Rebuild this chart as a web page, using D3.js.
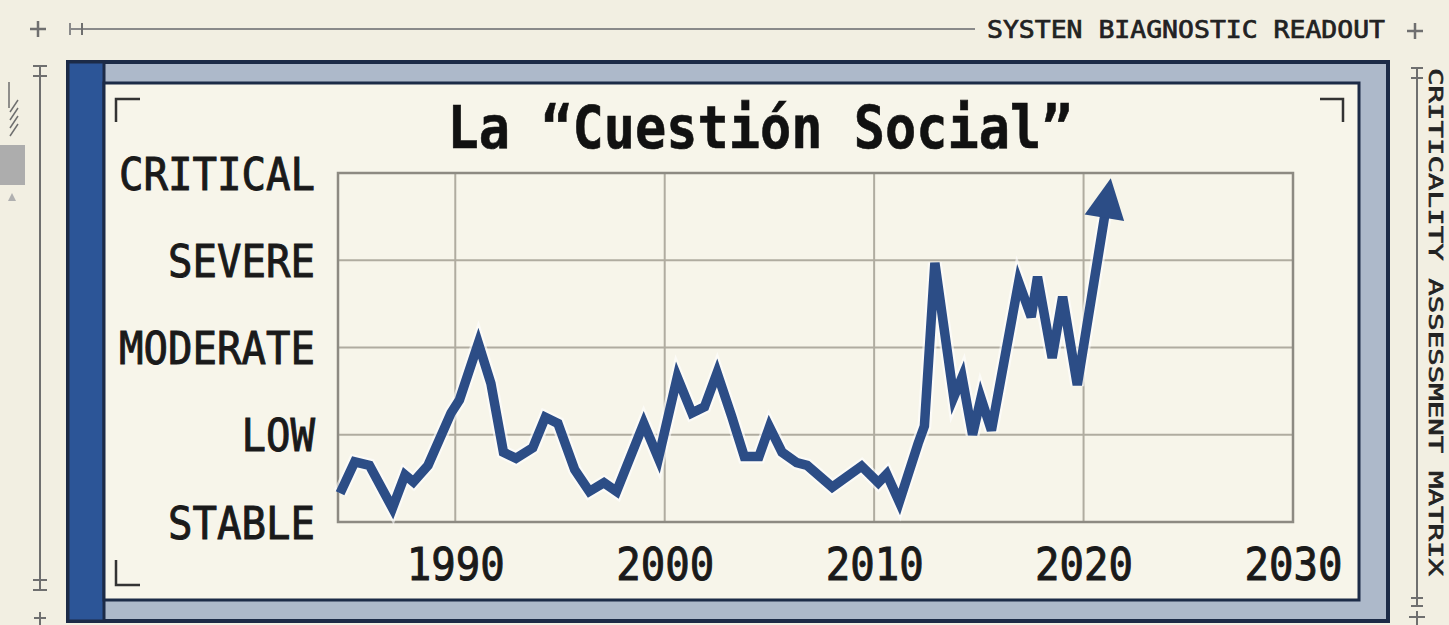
<!DOCTYPE html>
<html>
<head>
  <title>La Cuestión Social</title>
  <script src="https://d3js.org/d3.v7.min.js"></script>
  <style>
    body {
      margin: 0;
      padding: 0;
      background: #f2efe2;
    }
    svg { display: block; }
    text { font-family: 'DejaVu Sans Mono', monospace; }
  </style>
</head>
<body>
  <svg id="canvas" width="1449" height="625"></svg>

  <script>
    // data
    const levels = ["STABLE", "LOW", "MODERATE", "SEVERE", "CRITICAL"];
    const xTicks = [1990, 2000, 2010, 2020, 2030];
    const years = [
      1984.5, 1985.2, 1985.9, 1987.0, 1987.6, 1988.0, 1988.7, 1989.8, 1990.2, 1991.1,
      1991.7, 1992.3, 1992.9, 1993.7, 1994.3, 1994.9, 1995.7, 1996.4, 1997.1, 1997.7,
      1999.0, 1999.7, 2000.6, 2001.3, 2001.9, 2002.5, 2003.2, 2003.8, 2004.5, 2005.0,
      2005.6, 2006.3, 2006.8, 2008.0, 2009.4, 2010.2, 2010.6, 2011.2, 2012.1, 2012.4,
      2012.9, 2013.8, 2014.2, 2014.7, 2015.1, 2015.6, 2016.9, 2017.5, 2017.8, 2018.5,
      2019.0, 2019.7, 2021.3
    ];
    const severity = [
      0.33, 0.69, 0.65, 0.16, 0.54, 0.46, 0.65, 1.25, 1.40, 2.05,
      1.59, 0.80, 0.73, 0.85, 1.20, 1.13, 0.60, 0.35, 0.45, 0.35,
      1.13, 0.73, 1.66, 1.25, 1.32, 1.71, 1.21, 0.75, 0.75, 1.09,
      0.80, 0.68, 0.65, 0.40, 0.64, 0.45, 0.55, 0.23, 0.90, 1.10,
      2.97, 1.43, 1.66, 1.00, 1.42, 1.05, 2.75, 2.35, 2.81, 1.88,
      2.58, 1.57, 3.94
    ];
    const title = "La \u201cCuesti\u00f3n Social\u201d";
    const headerText = "SYSTEN BIAGNOSTIC READOUT";
    const sideText = "CRITICALITY ASSESSMENT MATRIX";

    const svg = d3.select("#canvas");
    const dark = "#1c2b47";
    const lineBlue = "#2c4d86";
    const deco = "#6f6f6f";

    // ---- outer decoration ----
    const d = svg.append("g").attr("stroke", deco).attr("fill", "none").attr("stroke-width", 2);
    d.append("path").attr("d", "M30,29H46M38,21V37").attr("stroke-width", 2.5);
    d.append("path").attr("d", "M70,23V35M70,29H975").attr("stroke", "#8a8a8a");
    d.append("path").attr("d", "M82,23V35");
    d.append("path").attr("d", "M1407,31H1423M1415,23V39").attr("stroke-width", 2.5);
    // left ruler
    d.append("path").attr("d", "M40,66V590M33,66H47M33,76H47M33,580H47M33,590H47M34,618H46M40,612V625");
    d.append("path").attr("d", "M9,82V108M10,112L18,100M10,120L18,108M10,128L18,116M10,136L18,124").attr("stroke-width", 1.5);
    svg.append("rect").attr("x", 0).attr("y", 145).attr("width", 25).attr("height", 40).attr("fill", "#adadad");
    svg.append("path").attr("d", "M12,193L16,201H8Z").attr("fill", "#b0b0b0");
    // right ruler
    d.append("path").attr("d", "M1417,68V606M1411,68H1423M1411,78H1423M1411,598H1423M1411,606H1423M1409,617H1425M1417,611V625");

    svg.append("text")
      .attr("x", 1385).attr("y", 38)
      .attr("text-anchor", "end")
      .attr("font-size", 24)
      .attr("textLength", 398).attr("lengthAdjust", "spacingAndGlyphs")
      .attr("fill", "#222").attr("stroke", "#222").attr("stroke-width", 0.7)
      .text(headerText);

    svg.append("text")
      .attr("transform", "translate(1429,68) rotate(90)")
      .attr("font-size", 19)
      .attr("textLength", 508).attr("lengthAdjust", "spacingAndGlyphs")
      .attr("fill", "#222").attr("stroke", "#222").attr("stroke-width", 0.6)
      .text(sideText);

    // ---- frame ----
    svg.append("rect").attr("x", 68).attr("y", 62).attr("width", 1320).attr("height", 559)
      .attr("fill", "#adb9ca").attr("stroke", dark).attr("stroke-width", 4);
    svg.append("rect").attr("x", 68).attr("y", 62).attr("width", 36).attr("height", 559)
      .attr("fill", "#2c5597").attr("stroke", dark).attr("stroke-width", 3);
    svg.append("rect").attr("x", 104).attr("y", 83).attr("width", 1255).attr("height", 517)
      .attr("fill", "#f7f5ea").attr("stroke", dark).attr("stroke-width", 3);

    const br = svg.append("g").attr("stroke", "#333").attr("stroke-width", 2.5).attr("fill", "none");
    br.append("path").attr("d", "M116,122V99H140");
    br.append("path").attr("d", "M1320,99H1343V122");
    br.append("path").attr("d", "M116,560V585H140");

    svg.append("text")
      .attr("x", 760).attr("y", 148)
      .attr("text-anchor", "middle")
      .attr("font-size", 58).attr("font-weight", "bold")
      .attr("textLength", 625).attr("lengthAdjust", "spacingAndGlyphs")
      .attr("fill", "#111").attr("stroke", "#111").attr("stroke-width", 0.6)
      .text(title);

    // ---- chart ----
    const x = d3.scaleLinear().domain([1984.4, 2030]).range([338, 1293]);
    const y = d3.scaleLinear().domain([0, levels.length - 1]).range([522, 173]);

    const grid = svg.append("g").attr("stroke", "#b0aca0").attr("stroke-width", 2);
    grid.selectAll(".gx").data(xTicks.slice(0, -1)).join("line")
      .attr("x1", v => x(v)).attr("x2", v => x(v)).attr("y1", y(0)).attr("y2", y(4));
    grid.selectAll(".gy").data(d3.range(1, levels.length)).join("line")
      .attr("x1", x.range()[0]).attr("x2", x.range()[1]).attr("y1", v => y(v)).attr("y2", v => y(v));
    svg.append("rect")
      .attr("x", 338).attr("y", 173).attr("width", 1293 - 338).attr("height", 522 - 173)
      .attr("fill", "none").attr("stroke", "#8d8a82").attr("stroke-width", 2.5);

    const yAxis = svg.append("g")
      .attr("transform", "translate(315,0)")
      .call(d3.axisLeft(y).tickValues(d3.range(levels.length)).tickFormat(i => levels[i]).tickSize(0).tickPadding(0));
    yAxis.select(".domain").remove();
    yAxis.selectAll("text")
      .attr("font-family", "'DejaVu Sans Mono', monospace")
      .attr("font-size", 45).attr("fill", "#1a1a1a")
      .attr("stroke", "#1a1a1a").attr("stroke-width", 1)
      .attr("dy", "0.36em")
      .attr("textLength", function () { return this.textContent.length * 24.5; })
      .attr("lengthAdjust", "spacingAndGlyphs");

    const xAxis = svg.append("g")
      .attr("transform", "translate(0,545)")
      .call(d3.axisBottom(x).tickValues(xTicks).tickFormat(d3.format("d")).tickSize(0).tickPadding(0));
    xAxis.select(".domain").remove();
    xAxis.selectAll("text")
      .attr("font-family", "'DejaVu Sans Mono', monospace")
      .attr("font-size", 45).attr("fill", "#1a1a1a")
      .attr("stroke", "#1a1a1a").attr("stroke-width", 1)
      .attr("dy", "0.78em")
      .attr("textLength", 98)
      .attr("lengthAdjust", "spacingAndGlyphs");

    // line with arrow head at the last point
    const pts = years.map((yr, i) => [x(yr), y(severity[i])]);
    const tip = pts[pts.length - 1];
    const prev = pts[pts.length - 2];
    const len = Math.hypot(tip[0] - prev[0], tip[1] - prev[1]);
    const ux = (tip[0] - prev[0]) / len, uy = (tip[1] - prev[1]) / len;
    const headLen = 40, headW = 20;
    const base = [tip[0] - ux * headLen, tip[1] - uy * headLen];
    const linePts = pts.slice(0, -1).concat([[tip[0] - ux * (headLen - 6), tip[1] - uy * (headLen - 6)]]);

    const line = d3.line();
    svg.append("path").attr("d", line(linePts))
      .attr("fill", "none").attr("stroke", "#ffffff").attr("stroke-opacity", 0.6)
      .attr("stroke-width", 14).attr("stroke-linejoin", "miter");
    svg.append("path").attr("d", line(linePts))
      .attr("fill", "none").attr("stroke", lineBlue)
      .attr("stroke-width", 9.5).attr("stroke-linejoin", "miter").attr("stroke-miterlimit", 4);
    const head = [
      tip,
      [base[0] - uy * headW, base[1] + ux * headW],
      [base[0] + uy * headW, base[1] - ux * headW]
    ];
    svg.append("path").attr("d", "M" + head.join("L") + "Z").attr("fill", lineBlue);
  </script>
</body>
</html>
